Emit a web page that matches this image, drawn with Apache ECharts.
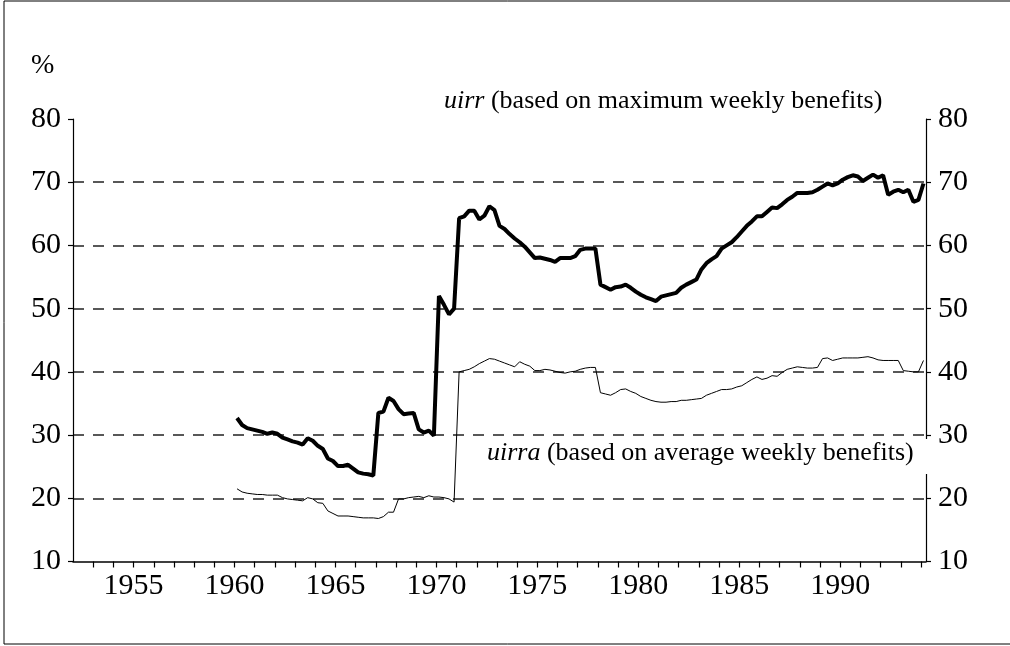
<!DOCTYPE html>
<html>
<head>
<meta charset="utf-8">
<script src="https://cdn.jsdelivr.net/npm/echarts@6/dist/echarts.min.js"></script>
<style>
html,body{margin:0;padding:0;background:#fff;}
#chart{width:1010px;height:646px;}
</style>
</head>
<body>
<div id="chart"></div>
<script>
// Quarterly data, 1960Q1 .. 1994Q1 (values in %)
const firstYear = 1960;
const uirr = [
  32.7, 31.6, 31.1, 30.9,  // 1960
  30.7, 30.5, 30.2, 30.4,  // 1961
  30.2, 29.6, 29.3, 29.0,  // 1962
  28.8, 28.5, 29.5, 29.1,  // 1963
  28.3, 27.8, 26.3, 25.9,  // 1964
  25.1, 25.1, 25.3, 24.7,  // 1965
  24.1, 23.9, 23.8, 23.6,  // 1966
  33.5, 33.7, 35.9, 35.4,  // 1967
  34.1, 33.3, 33.4, 33.5,  // 1968
  30.9, 30.4, 30.7, 29.9,  // 1969
  52.0, 50.6, 49.1, 50.0,  // 1970
  64.3, 64.6, 65.5, 65.5,  // 1971
  64.1, 64.7, 66.2, 65.6,  // 1972
  63.1, 62.6, 61.8, 61.1,  // 1973
  60.5, 59.8, 58.9, 58.0,  // 1974
  58.1, 57.9, 57.7, 57.4,  // 1975
  58.0, 58.0, 58.0, 58.3,  // 1976
  59.3, 59.5, 59.5, 59.5,  // 1977
  53.8, 53.4, 53.0, 53.4,  // 1978
  53.5, 53.8, 53.3, 52.7,  // 1979
  52.2, 51.8, 51.5, 51.2,  // 1980
  51.9, 52.1, 52.3, 52.5,  // 1981
  53.3, 53.8, 54.2, 54.6,  // 1982
  56.2, 57.2, 57.8, 58.3,  // 1983
  59.5, 60.0, 60.5, 61.3,  // 1984
  62.2, 63.1, 63.8, 64.6,  // 1985
  64.6, 65.3, 66.0, 65.9,  // 1986
  66.5, 67.2, 67.7, 68.3,  // 1987
  68.3, 68.3, 68.4, 68.8,  // 1988
  69.3, 69.8, 69.5, 69.8,  // 1989
  70.4, 70.8, 71.1, 70.9,  // 1990
  70.2, 70.7, 71.2, 70.7,  // 1991
  71.1, 68.0, 68.5, 68.8,  // 1992
  68.4, 68.8, 66.9, 67.2,  // 1993
  69.8                     // 1994
];
const uirra = [
  21.5, 21.0, 20.8, 20.7,  // 1960
  20.6, 20.6, 20.5, 20.5,  // 1961
  20.5, 20.1, 19.9, 19.8,  // 1962
  19.7, 19.6, 20.1, 19.9,  // 1963
  19.3, 19.2, 18.0, 17.6,  // 1964
  17.2, 17.2, 17.2, 17.1,  // 1965
  17.0, 16.9, 16.9, 16.9,  // 1966
  16.8, 17.1, 17.8, 17.8,  // 1967
  19.9, 19.9, 20.1, 20.2,  // 1968
  20.3, 20.1, 20.4, 20.2,  // 1969
  20.2, 20.1, 19.9, 19.4,  // 1970
  40.0, 40.2, 40.4, 40.8,  // 1971
  41.3, 41.7, 42.1, 42.0,  // 1972
  41.7, 41.4, 41.1, 40.8,  // 1973
  41.6, 41.2, 40.9, 40.2,  // 1974
  40.2, 40.4, 40.3, 40.1,  // 1975
  39.9, 39.8, 40.0, 40.1,  // 1976
  40.4, 40.6, 40.7, 40.7,  // 1977
  36.7, 36.5, 36.3, 36.7,  // 1978
  37.2, 37.3, 36.9, 36.6,  // 1979
  36.1, 35.8, 35.5, 35.3,  // 1980
  35.2, 35.2, 35.3, 35.3,  // 1981
  35.5, 35.5, 35.6, 35.7,  // 1982
  35.8, 36.3, 36.6, 36.9,  // 1983
  37.2, 37.2, 37.3, 37.6,  // 1984
  37.8, 38.3, 38.8, 39.2,  // 1985
  38.8, 39.0, 39.4, 39.3,  // 1986
  39.9, 40.4, 40.6, 40.8,  // 1987
  40.7, 40.6, 40.6, 40.7,  // 1988
  42.1, 42.2, 41.8, 42.0,  // 1989
  42.2, 42.2, 42.2, 42.2,  // 1990
  42.3, 42.4, 42.2, 41.9,  // 1991
  41.8, 41.8, 41.8, 41.8,  // 1992
  40.2, 40.1, 40.0, 40.0,  // 1993
  41.8                     // 1994
];
const xMin = 1952, xMax = 1994.25;
const yMin = 10, yMax = 80, yStep = 10;
const xLabelYears = [1955, 1960, 1965, 1970, 1975, 1980, 1985, 1990];
const uirrLabel = ['uirr', ' (based on maximum weekly benefits)'];
const uirraLabel = ['uirra', ' (based on average weekly benefits)'];
const unitLabel = '%';

// quarter midpoints as x
function toPairs(arr) {
  return arr.map((v, i) => [firstYear + (i + 0.5) / 4, v]);
}

const FONT = '"Liberation Serif", "Times New Roman", serif';
const chart = echarts.init(document.getElementById('chart'), null, {renderer: 'canvas'});

const yAxisCommon = {
  type: 'value', min: yMin, max: yMax, interval: yStep,
  axisLine: {show: true, lineStyle: {color: '#000', width: 1.2}},
  axisTick: {show: true, inside: false, length: 5, lineStyle: {color: '#000', width: 1.2}},
  axisLabel: {color: '#000', fontFamily: FONT, fontSize: 30},
};

chart.setOption({
  animation: false,
  backgroundColor: '#fff',
  grid: {left: 73, right: 84, top: 119, bottom: 84.5, containLabel: false, outerBoundsMode: 'none'},
  xAxis: {
    type: 'value', min: xMin, max: xMax, interval: 1,
    axisLine: {show: true, onZero: false, lineStyle: {color: '#000', width: 1.5}},
    axisTick: {show: true, inside: false, length: 6, lineStyle: {color: '#000', width: 1.2}},
    axisLabel: {
      color: '#000', fontFamily: FONT, fontSize: 30, margin: 10,
      showMinLabel: false, showMaxLabel: false,
      formatter: v => (xLabelYears.indexOf(Math.round(v * 100) / 100) >= 0 ? String(v) : '')
    },
    splitLine: {show: false}
  },
  yAxis: [
    Object.assign({}, yAxisCommon, {
      position: 'left',
      axisLabel: Object.assign({}, yAxisCommon.axisLabel, {margin: 12}),
      splitLine: {show: true, showMinLine: false, showMaxLine: false,
        lineStyle: {color: '#222', width: 1.5, type: [11, 9]}}
    }),
    Object.assign({}, yAxisCommon, {
      position: 'right',
      axisLabel: Object.assign({}, yAxisCommon.axisLabel, {margin: 12}),
      splitLine: {show: false}
    })
  ],
  series: [
    {
      name: 'uirr', type: 'line', data: toPairs(uirr), showSymbol: false,
      lineStyle: {color: '#000', width: 4}, z: 3
    },
    {
      name: 'uirra', type: 'line', data: toPairs(uirra), showSymbol: false,
      lineStyle: {color: '#000', width: 1}, z: 3
    }
  ],
  graphic: [
    {type: 'rect', shape: {x: 4, y: 1, width: 1020, height: 643}, silent: true, z: -10,
      style: {fill: 'none', stroke: '#000', lineWidth: 1}},
    {type: 'text', left: 31, top: 52, z: 10,
      style: {text: unitLabel, font: '28px ' + FONT, fill: '#000'}},
    {type: 'text', left: 444, top: 88, z: 10,
      style: {
        text: '{i|' + uirrLabel[0] + '}{n|' + uirrLabel[1] + '}',
        rich: {i: {font: 'italic 26px ' + FONT, fill: '#000'}, n: {font: '26px ' + FONT, fill: '#000'}},
        fill: '#000'
      }},
    {type: 'rect', shape: {x: 482, y: 439, width: 450, height: 35}, z: 9,
      style: {fill: '#fff', stroke: 'none'}},
    {type: 'text', left: 487, top: 440, z: 10,
      style: {
        text: '{i|' + uirraLabel[0] + '}{n|' + uirraLabel[1] + '}',
        rich: {i: {font: 'italic 26px ' + FONT, fill: '#000'}, n: {font: '26px ' + FONT, fill: '#000'}},
        fill: '#000'
      }}
  ]
});
</script>
</body>
</html>
